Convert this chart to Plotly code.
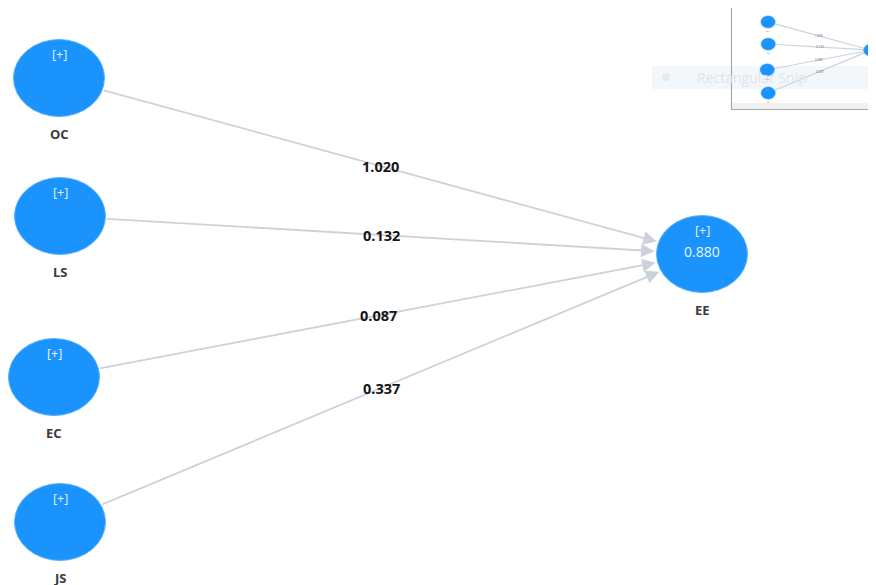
import plotly.graph_objects as go
import math

# ---- data ----
source_nodes = ["OC", "LS", "EC", "JS"]
target_node = "EE"
path_coefficients = [1.020, 0.132, 0.087, 0.337]
r_squared_target = 0.880

# ---- layout (pixel coordinates of node centres) ----
W, H = 876, 585
OFF = 8  # page body margin compensation
node_pos = {"OC": (59, 78), "LS": (60, 216), "EC": (54, 377), "JS": (60, 522), "EE": (702, 254)}
RX, RY = 45.5, 38.5
NODE_FILL = "#1a94fc"
NODE_LINE = "#5bb2fb"
EDGE_COLOR = "#ccd2dd"
FONT = "Open Sans"

fig = go.Figure()
shapes = []
annotations = []


def boundary(d, rx, ry):
    return 1.0 / math.sqrt((d[0] / rx) ** 2 + (d[1] / ry) ** 2)


def draw_diagram(scale, ox, oy, main=True):
    rx, ry = RX * scale, RY * scale
    def T(p):
        return (p[0] * scale + ox, p[1] * scale + oy)
    tx, ty = T(node_pos[target_node])
    for name, coef in zip(source_nodes, path_coefficients):
        sx, sy = T(node_pos[name])
        dx, dy = tx - sx, ty - sy
        L = math.hypot(dx, dy)
        d = (dx / L, dy / L)
        b = boundary(d, rx, ry)
        x0, y0 = sx + d[0] * b, sy + d[1] * b
        gap = 2 if main else 0
        x1, y1 = tx - d[0] * (b + gap), ty - d[1] * (b + gap)
        if main:
            annotations.append(dict(x=x1, y=y1, ax=x0, ay=y0, xref="x", yref="y", axref="x", ayref="y",
                                    text="", showarrow=True, arrowhead=2, arrowsize=1.5, arrowwidth=1.8,
                                    arrowcolor=EDGE_COLOR, standoff=0, startstandoff=0))
            annotations.append(dict(x=(sx + tx) / 2, y=(sy + ty) / 2, xref="x", yref="y", showarrow=False,
                                    text=f"<b>{coef:.3f}</b>", font=dict(family=FONT, size=14.5, color="#151515")))
        else:
            shapes.append(dict(type="line", x0=x0, y0=y0, x1=x1, y1=y1, xref="x", yref="y",
                               line=dict(color=EDGE_COLOR, width=1.2), layer="above"))
            annotations.append(dict(x=(sx + tx) / 2, y=(sy + ty) / 2, xref="x", yref="y", showarrow=False,
                                    text=f"{coef:.3f}", font=dict(family=FONT, size=3, color="#555")))
    for name in source_nodes + [target_node]:
        cx, cy = T(node_pos[name])
        shapes.append(dict(type="circle", x0=cx - rx, x1=cx + rx, y0=cy - ry, y1=cy + ry, xref="x", yref="y",
                           fillcolor=NODE_FILL, line=dict(color=NODE_LINE, width=1 if main else 0.5), layer="above"))
        if main:
            annotations.append(dict(x=cx, y=cy - ry + 15, xref="x", yref="y", showarrow=False, text="[+]",
                                    font=dict(family=FONT, size=12.5, color="#e8f3ff")))
            annotations.append(dict(x=cx, y=cy + ry + 17.5, xref="x", yref="y", showarrow=False, text=f"<b>{name}</b>",
                                    font=dict(family=FONT, size=13, color="#3a3a3a")))
            if name == target_node:
                annotations.append(dict(x=cx, y=cy - 3, xref="x", yref="y", showarrow=False,
                                        text=f"{r_squared_target:.3f}",
                                        font=dict(family=FONT, size=14, color="#eaf4ff")))
        else:
            annotations.append(dict(x=cx, y=cy - ry * 0.55, xref="x", yref="y", showarrow=False, text="-",
                                    font=dict(family=FONT, size=4, color="#ffffff")))
            annotations.append(dict(x=cx, y=cy + ry + 3, xref="x", yref="y", showarrow=False, text=name,
                                    font=dict(family=FONT, size=2.5, color="#777")))


# snip overlay band (behind inset)
shapes.append(dict(type="rect", x0=652, x1=W + 20, y0=66, y1=89, xref="x", yref="y",
                   fillcolor="#f2f7fc", line=dict(width=0), layer="below"))
shapes.append(dict(type="circle", x0=662, x1=670, y0=73, y1=81, xref="x", yref="y",
                   fillcolor="#e6eaef", line=dict(width=0), layer="below"))
annotations.append(dict(x=695, y=77, xref="x", yref="y", xanchor="left", showarrow=False,
                        text="Rectangular Snip", font=dict(family=FONT, size=14, color="#e2e4e8")))

# inset frame
shapes.append(dict(type="rect", x0=732, x1=W + 20, y0=103, y1=109, xref="x", yref="y",
                   fillcolor="#f1f1f1", line=dict(width=0), layer="below"))
shapes.append(dict(type="line", x0=731.5, x1=731.5, y0=8, y1=110, xref="x", yref="y",
                   line=dict(color="#a8a8a8", width=1.2)))
shapes.append(dict(type="line", x0=731, x1=W + 20, y0=109.5, y1=109.5, xref="x", yref="y",
                   line=dict(color="#a8a8a8", width=1.2)))

draw_diagram(1.0, 0, 0, main=True)
draw_diagram(0.16, 758.6, 9.5, main=False)

fig.update_layout(
    width=W - OFF, height=H - OFF, margin=dict(l=0, r=0, t=0, b=0),
    paper_bgcolor="white", plot_bgcolor="white",
    xaxis=dict(range=[OFF, W], visible=False, fixedrange=True),
    yaxis=dict(range=[H, OFF], visible=False, fixedrange=True),
    shapes=shapes, annotations=annotations, showlegend=False,
)
fig.write_html("out.html")
